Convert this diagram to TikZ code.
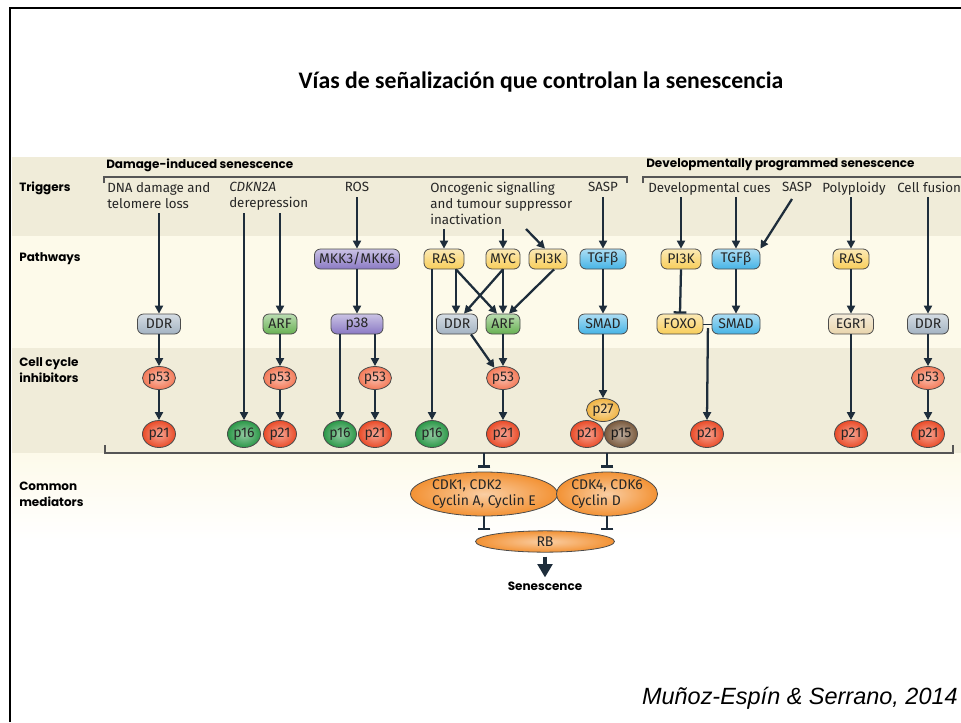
\documentclass[tikz,border=0pt]{standalone}
\usepackage{fontspec}
\setmainfont{Fira Sans}
\newfontfamily\titlefont{Carlito}
\newfontfamily\hdfont{Poppins}
\newfontfamily\citefont{Liberation Sans}
\usetikzlibrary{shapes.geometric,arrows.meta,calc}
\definecolor{navy}{HTML}{1E2D3B}
\definecolor{bandD}{HTML}{F0ECD9}
\definecolor{bandL}{HTML}{FDFAEA}
\definecolor{cddr}{HTML}{A3B3C2}
\definecolor{carf}{HTML}{67B152}
\definecolor{cpur}{HTML}{8A79C4}
\definecolor{cyel}{HTML}{F8CE5A}
\definecolor{csky}{HTML}{46B4E6}
\definecolor{cegr}{HTML}{E9D5AC}
\definecolor{cp53}{HTML}{F47A58}
\definecolor{cp21}{HTML}{EA4B28}
\definecolor{cp16}{HTML}{2B9848}
\definecolor{cp27}{HTML}{F0B444}
\definecolor{cp15}{HTML}{7A5A3D}
\definecolor{corg}{HTML}{F39234}
\definecolor{brkc}{HTML}{555555}
\tikzset{
  lab/.style={font=\fontsize{10}{12}\selectfont, text=black!85, inner sep=0pt},
  hd/.style={font=\hdfont\bfseries\fontsize{9}{12}\selectfont, text=black, inner sep=0pt, align=left},
  pbox/.style={rectangle, rounded corners=4.5pt, draw=black!70, line width=0.6pt,
    top color=#1!45!white, bottom color=#1, minimum height=15pt, inner xsep=2pt, inner ysep=0pt,
    font=\fontsize{10.5}{12}\selectfont, text=black!85},
  bw/.style={minimum width=#1*0.75pt},
  pell/.style={ellipse, draw=black!70, line width=0.6pt, inner sep=0pt,
    inner color=#1!50!white, outer color=#1, minimum width=24.75pt, minimum height=20.25pt,
    font=\fontsize{10.5}{12}\selectfont, text=black!85},
  pfs/.style={pell=cp53, minimum height=17.25pt},
  cdk/.style={ellipse, draw=black!70, line width=0.6pt, inner sep=0pt,
    inner color=corg!45!white, outer color=corg, align=left,
    font=\fontsize{10.5}{12.5}\selectfont, text=black!85},
  arr/.style={draw=navy, line width=1.7pt, -{Triangle[length=6pt,width=6pt]}},
  inh/.style={draw=navy, line width=1.7pt, -{Bar[width=9.5pt,line width=1.7pt]}},
  brk/.style={draw=brkc, line width=0.8pt},
}
\begin{document}
\begin{tikzpicture}[x=0.75pt,y=-0.75pt]
\useasboundingbox (0,0) rectangle (961,722);
% bands
\fill[bandD] (12,157) rectangle (961,236);
\fill[bandL] (12,236) rectangle (961,348);
\fill[bandD] (12,348) rectangle (961,453);
\shade[top color=bandL, bottom color=white] (12,453) rectangle (961,540);
% frame
\draw[line width=1.5pt] (10,722) -- (10,8) -- (961,8);
% title
\node[font=\titlefont\bfseries\fontsize{17.8}{21}\selectfont] (title) at (541,82) {Vías de señalización que controlan la senescencia};
% headers
\node[hd, anchor=west] (dis) at (106,165) {Damage-induced senescence};
\node[hd, anchor=west] (dps) at (646,165) {Developmentally programmed senescence};
\draw[brk] (104,183) -- (104,177) -- (627,177) -- (627,183);
\draw[brk] (643,183) -- (643,177) -- (961,177);
% row labels
\node[hd, anchor=west] (rT) at (19,188) {Triggers};
\node[hd, anchor=west] (rP) at (19,259) {Pathways};
\node[hd, anchor=west] (rC) at (19,370) {Cell cycle\\inhibitors};
\node[hd, anchor=west] (rM) at (19,494) {Common\\mediators};
% triggers
\node[lab, anchor=north west, align=left] (tDNA) at (107,182) {DNA damage and\\telomere loss};
\node[lab, anchor=north west, align=left] (tCDK) at (229,182) {\itshape CDKN2A\\derepression};
\node[lab, anchor=north] (tROS) at (357,182) {ROS};
\node[lab, anchor=north west, align=left] (tONC) at (430,182) {Oncogenic signalling\\and tumour suppressor\\inactivation};
\node[lab, anchor=north] (tSASP) at (603,182) {SASP};
\node[lab, anchor=north west] (tDEV) at (648,182) {Developmental cues};
\node[lab, anchor=north] (tSASP2) at (797,182) {SASP};
\node[lab, anchor=north] (tPOL) at (854,182) {Polyploidy};
\node[lab, anchor=north west] (tFUS) at (897,182) {Cell fusion};
% pathway nodes
\node[pbox=cpur, bw=85] (MKK) at (357,259) {MKK3/MKK6};
\node[pbox=cyel, bw=40] (RASa) at (444,259) {RAS};
\node[pbox=cyel, bw=34] (MYC) at (503,259) {MYC};
\node[pbox=cyel, bw=38] (PIa) at (548,259) {PI3K};
\node[pbox=csky, bw=46] (TGFa) at (603,259) {TGFβ};
\node[pbox=cyel, bw=40] (PId) at (681,259) {PI3K};
\node[pbox=csky, bw=48] (TGFd) at (736,259) {TGFβ};
\node[pbox=cyel, bw=36] (RASd) at (851,259) {RAS};
\node[pbox=cddr, bw=43] (DDR1) at (159,324) {DDR};
\node[pbox=carf, bw=34] (ARF1) at (280,324) {ARF};
\node[pbox=cpur, bw=52] (P38) at (357,324) {p38};
\node[pbox=cddr, bw=41] (DDR2) at (457,324) {DDR};
\node[pbox=carf, bw=34] (ARF2) at (503,324) {ARF};
\node[pbox=csky, bw=49] (SMADa) at (603,324) {SMAD};
\node[pbox=cyel, bw=46] (FOXO) at (680,324) {FOXO};
\node[pbox=csky, bw=48] (SMADd) at (736,324) {SMAD};
\node[pbox=cegr, bw=45] (EGR) at (851,324) {EGR1};
\node[pbox=cddr, bw=41] (DDR3) at (928,324) {DDR};
% cell cycle inhibitors
\node[pfs] (P53a) at (159,378) {p53};
\node[pfs] (P53b) at (280,378) {p53};
\node[pfs] (P53c) at (375,378) {p53};
\node[pfs] (P53d) at (503,378) {p53};
\node[pfs] (P53e) at (928,378) {p53};
\node[pell=cp21] (P21a) at (159,434) {p21};
\node[pell=cp16] (P16a) at (244,434) {p16};
\node[pell=cp21] (P21b) at (280,434) {p21};
\node[pell=cp16] (P16b) at (340,434) {p16};
\node[pell=cp21] (P21c) at (375,434) {p21};
\node[pell=cp16] (P16c) at (432,434) {p16};
\node[pell=cp21] (P21d) at (503,434) {p21};
\node[pell=cp21] (P21e) at (587,434) {p21};
\node[pell=cp15, text=black!90] (P15) at (621,434) {p15};
\node[pell=cp27, minimum height=17.25pt] (P27) at (603,410) {p27};
\node[pell=cp21] (P21f) at (707,434) {p21};
\node[pell=cp21] (P21g) at (851,434) {p21};
\node[pell=cp21] (P21h) at (928,434) {p21};
% trigger start points
\coordinate (sDNA) at (159,213);
\coordinate (sCDK1) at (244,213);
\coordinate (sCDK2) at (280,213);
\coordinate (sROS) at (357,197);
\coordinate (sO1) at (444,229);
\coordinate (sO2) at (503,229);
\coordinate (sO3) at (526,229);
\coordinate (sSASP) at (603,197);
\coordinate (sDev1) at (681,197);
\coordinate (sDev2) at (736,197);
\coordinate (sSASP2) at (792,199);
\coordinate (sPoly) at (851,197);
\coordinate (sFus) at (928,197);
% arrows: damage-induced
\draw[arr] (sDNA) -- (DDR1.north);
\draw[arr] (DDR1.south) -- (P53a.north);
\draw[arr] (P53a.south) -- (P21a.north);
\draw[arr] (sCDK1) -- (P16a.north);
\draw[arr] (sCDK2) -- (ARF1.north);
\draw[arr] (ARF1.south) -- (P53b.north);
\draw[arr] (P53b.south) -- (P21b.north);
\draw[arr] (sROS) -- (MKK.north);
\draw[arr] (MKK.south) -- (P38.north);
\draw[arr] ($(P38.south)+(-17,0)$) -- (P16b.north);
\draw[arr] ($(P38.south)+(18,0)$) -- (P53c.north);
\draw[arr] (P53c.south) -- (P21c.north);
\draw[arr] (sO1) -- (RASa.north);
\draw[arr] (sO2) -- (MYC.north);
\draw[arr] (sO3) -- ($(PIa.north)+(-3,0)$);
\draw[arr] ($(RASa.south)+(-12,0)$) -- (P16c.north);
\draw[arr] ($(RASa.south)+(12,0)$) -- ($(DDR2.north)+(-1,0)$);
\draw[arr] ($(RASa.south)+(12,0)$) -- ($(ARF2.north)+(-6,0)$);
\draw[arr] (MYC.south) -- ($(DDR2.north)+(7,0)$);
\draw[arr] (MYC.south) -- (ARF2.north);
\draw[arr] ($(PIa.south)+(6,0)$) -- ($(ARF2.north)+(6,0)$);
\draw[arr] ($(DDR2.south)+(14,0)$) -- (P53d.130);
\draw[arr] (ARF2.south) -- (P53d.north);
\draw[arr] (P53d.south) -- (P21d.north);
\draw[arr] (sSASP) -- (TGFa.north);
\draw[arr] (TGFa.south) -- (SMADa.north);
\draw[arr] (SMADa.south) -- (P27.north);
% developmental
\draw[arr] (sDev1) -- (PId.north);
\draw[arr] (sDev2) -- (TGFd.north);
\draw[arr] (sSASP2) -- (TGFd.north east);
\draw[inh] (PId.south) -- (FOXO.north);
\draw[arr] (TGFd.south) -- (SMADd.north);
\draw[navy, line width=0.7pt] (FOXO.east) -- (SMADd.west);
\coordinate (fs) at ($(FOXO.east)!0.55!(SMADd.west)+(0,4)$);
\draw[arr] (fs) -- (P21f.north);
\draw[arr] (sPoly) -- (RASd.north);
\draw[arr] (RASd.south) -- (EGR.north);
\draw[arr] (EGR.south) -- (P21g.north);
\draw[arr] (sFus) -- (DDR3.north);
\draw[arr] (DDR3.south) -- (P53e.north);
\draw[arr] (P53e.south) -- (P21h.north);
% lower bracket
\draw[brk] (105,445) -- (105,453) -- (953,453) -- (953,445);
\coordinate (bk1) at (484,453);
\coordinate (bk2) at (607,453);
% common mediators
\node[cdk, minimum width=103.5pt, minimum height=33pt] (E1) at (484,494) {CDK1, CDK2\\Cyclin A, Cyclin E};
\node[cdk, minimum width=75.75pt, minimum height=33pt] (E2) at (607,494) {CDK4, CDK6\\Cyclin D};
\node[cdk, minimum width=104.25pt, minimum height=16pt] (RB) at (545,541.5) {RB};
\draw[inh] (bk1) -- ($(E1.north)+(0,-4)$);
\draw[inh] (bk2) -- ($(E2.north)+(0,-4)$);
\draw[inh] (E1.south) -- (E1.south |- RB.north);
\draw[inh] (E2.south) -- (E2.south |- RB.north);
\node[hd] (sen) at (545,586) {Senescence};
\draw[draw=navy, line width=2.4pt, -{Triangle[length=10pt,width=11pt]}] ($(RB.south)+(0,4)$) -- ($(sen.north)+(0,-4)$);
% citation
\node[font=\citefont\itshape\fontsize{17.6}{21}\selectfont, anchor=base east, inner sep=0pt] (cite) at (958,704) {Muñoz-Espín \& Serrano, 2014};
\end{tikzpicture}
\end{document}
